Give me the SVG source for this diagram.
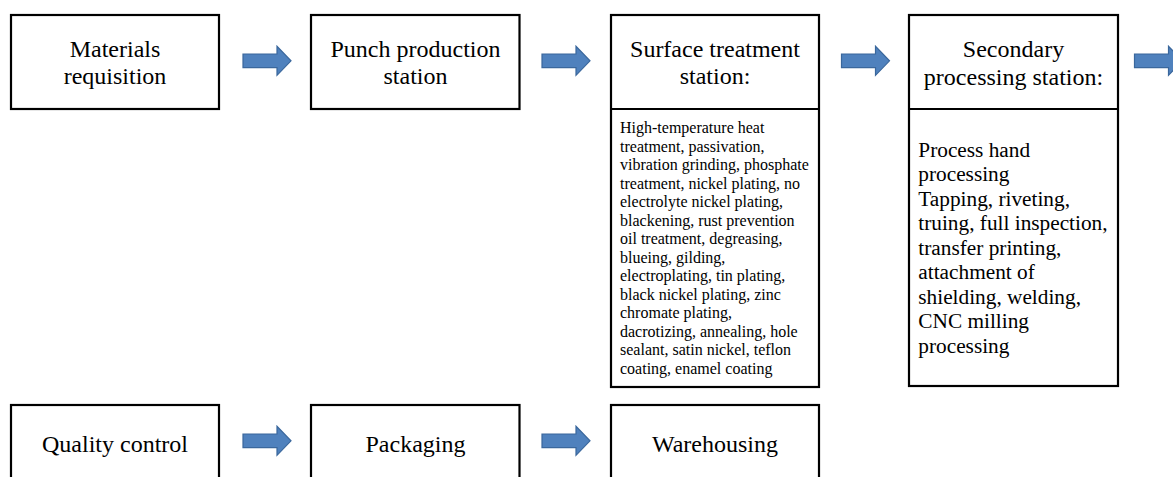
<svg xmlns="http://www.w3.org/2000/svg" width="1173" height="477" viewBox="0 0 1173 477">
  <style>
    .box { fill: #ffffff; stroke: #000000; stroke-width: 2.2; }
    .hd { font-family: "Liberation Serif", serif; font-size: 24px; fill: #000000; text-anchor: middle; }
    .small { font-family: "Liberation Serif", serif; font-size: 16px; fill: #000000; }
    .mid { font-family: "Liberation Serif", serif; font-size: 21.3px; fill: #000000; }
    .arrow { fill: #4F81BD; stroke: #3A679C; stroke-width: 1.2; }
  </style>
  <defs>
    <polygon id="block-arrow" points="0,-6.8 34,-6.8 34,-14.5 48,0 34,14.5 34,6.8 0,6.8"/>
  </defs>

  <rect width="1173" height="477" fill="#ffffff"/>

  <g id="materials-requisition">
    <rect class="box" x="11" y="15" width="208" height="94"/>
    <text class="hd" font-family="Liberation Serif, serif" x="115" y="56.7">Materials</text>
    <text class="hd" font-family="Liberation Serif, serif" x="115" y="84.3">requisition</text>
  </g>

  <g id="punch-production">
    <rect class="box" x="311" y="15" width="208.5" height="94"/>
    <text class="hd" font-family="Liberation Serif, serif" x="415.5" y="56.7">Punch production</text>
    <text class="hd" font-family="Liberation Serif, serif" x="415.5" y="84.3">station</text>
  </g>

  <g id="surface-treatment">
    <rect class="box" x="611" y="15" width="208" height="372"/>
    <line x1="611" y1="109" x2="819" y2="109" stroke="#000000" stroke-width="2.2"/>
    <text class="hd" font-family="Liberation Serif, serif" x="715" y="56.7">Surface treatment</text>
    <text class="hd" font-family="Liberation Serif, serif" x="715" y="84.3">station:</text>
    <text class="small" x="620" y="133.3">
      <tspan x="620" dy="0">High-temperature heat</tspan>
      <tspan x="620" dy="18.5">treatment, passivation,</tspan>
      <tspan x="620" dy="18.5">vibration grinding, phosphate</tspan>
      <tspan x="620" dy="18.5">treatment, nickel plating, no</tspan>
      <tspan x="620" dy="18.5">electrolyte nickel plating,</tspan>
      <tspan x="620" dy="18.5">blackening, rust prevention</tspan>
      <tspan x="620" dy="18.5">oil treatment, degreasing,</tspan>
      <tspan x="620" dy="18.5">blueing, gilding,</tspan>
      <tspan x="620" dy="18.5">electroplating, tin plating,</tspan>
      <tspan x="620" dy="18.5">black nickel plating, zinc</tspan>
      <tspan x="620" dy="18.5">chromate plating,</tspan>
      <tspan x="620" dy="18.5">dacrotizing, annealing, hole</tspan>
      <tspan x="620" dy="18.5">sealant, satin nickel, teflon</tspan>
      <tspan x="620" dy="18.5">coating, enamel coating</tspan>
    </text>
  </g>

  <g id="secondary-processing">
    <rect class="box" x="909" y="15" width="209" height="371"/>
    <line x1="909" y1="109" x2="1118" y2="109" stroke="#000000" stroke-width="2.2"/>
    <text class="hd" font-family="Liberation Serif, serif" x="1013.5" y="57">Secondary</text>
    <text class="hd" font-family="Liberation Serif, serif" x="1013.5" y="84.6">processing station:</text>
    <text class="mid" x="918.3" y="156.7">
      <tspan x="918.3" dy="0">Process hand</tspan>
      <tspan x="918.3" dy="24.5">processing</tspan>
      <tspan x="918.3" dy="24.5">Tapping, riveting,</tspan>
      <tspan x="918.3" dy="24.5">truing, full inspection,</tspan>
      <tspan x="918.3" dy="24.5">transfer printing,</tspan>
      <tspan x="918.3" dy="24.5">attachment of</tspan>
      <tspan x="918.3" dy="24.5">shielding, welding,</tspan>
      <tspan x="918.3" dy="24.5">CNC milling</tspan>
      <tspan x="918.3" dy="24.5">processing</tspan>
    </text>
  </g>

  <g id="quality-control">
    <rect class="box" x="11" y="405" width="208" height="94"/>
    <text class="hd" font-family="Liberation Serif, serif" x="115" y="451.5">Quality control</text>
  </g>

  <g id="packaging">
    <rect class="box" x="311" y="405" width="208.5" height="94"/>
    <text class="hd" font-family="Liberation Serif, serif" x="415.5" y="451.5">Packaging</text>
  </g>

  <g id="warehousing">
    <rect class="box" x="611" y="405" width="208" height="94"/>
    <text class="hd" font-family="Liberation Serif, serif" x="715" y="451.5">Warehousing</text>
  </g>

  <g id="connectors">
    <use href="#block-arrow" class="arrow" x="243" y="60.8"/>
    <use href="#block-arrow" class="arrow" x="542" y="60.8"/>
    <use href="#block-arrow" class="arrow" x="841.5" y="60.8"/>
    <use href="#block-arrow" class="arrow" x="1134.5" y="60.8"/>
    <use href="#block-arrow" class="arrow" x="243" y="440.8"/>
    <use href="#block-arrow" class="arrow" x="542" y="440.8"/>
  </g>
</svg>
